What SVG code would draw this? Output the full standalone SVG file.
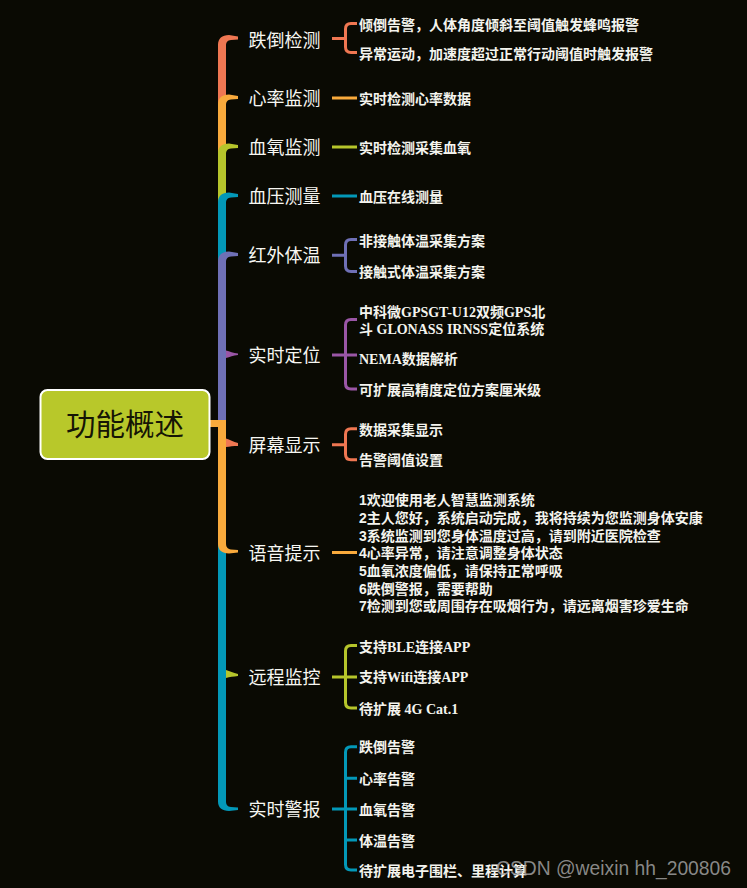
<svg xmlns="http://www.w3.org/2000/svg" width="747" height="888" viewBox="0 0 747 888">
<style>
.lbl{font-family:"Noto Sans CJK SC","Noto Sans",sans-serif;font-size:18px;fill:#f7f7f2}
.leaf{font-family:"Liberation Serif","Noto Sans CJK SC",serif;font-size:14px;font-weight:bold;fill:#f4f4ee}
.leafs{font-family:"Liberation Sans","Noto Sans CJK SC",sans-serif;font-size:14px;font-weight:bold;fill:#f4f4ee}
.c{fill:none;stroke-width:3;stroke-linecap:butt}
.coral{fill:#ef7752}.orange{fill:#f9aa3c}.green{fill:#b6c52b}.teal{fill:#0398b8}.bp{fill:#6f70b6}.purple{fill:#9a56a6}
.scoral{stroke:#ef7752}.sorange{stroke:#f9aa3c}.sgreen{stroke:#b6c52b}.steal{stroke:#0398b8}.sbp{stroke:#6f70b6}.spurple{stroke:#9a56a6}
</style>
<rect width="747" height="888" fill="#0a0a03"/>
<g id="connectors">
  <!-- spine, upper branches -->
  <path class="coral" d="M218,424 L218,45 C218,38.5 222,35 229,35 L238,36.5 L238,39.5 L231,40 C227.5,40.5 226,42 226,46 L226,424 Z"/>
  <path class="orange" d="M218,424 L218,104.5 C218,98 222,94.5 229,94.5 L238,96 L238,99 L231,99.5 C227.5,100 226,101.5 226,105.5 L226,424 Z"/>
  <path class="green" d="M218,424 L218,153.5 C218,147 222,143.5 229,143.5 L238,145 L238,148 L231,148.5 C227.5,149 226,150.5 226,154.5 L226,424 Z"/>
  <path class="teal" d="M218,424 L218,202.5 C218,196 222,192.5 229,192.5 L238,194 L238,197 L231,197.5 C227.5,198 226,199.5 226,203.5 L226,424 Z"/>
  <path class="bp" d="M218,424 L218,261.5 C218,255 222,251.5 229,251.5 L238,253 L238,256 L231,256.5 C227.5,257 226,258.5 226,262.5 L226,424 Z"/>
  <path class="purple" d="M226,350.5 C230,351.5 233,353 238,353.5 L238,355 C233,355.5 230,357 226,358 Z"/>
  <!-- spine, lower branches -->
  <path class="teal" d="M218,424 L218,801.5 C218,807.5 222,811 229,811 L238,810 L238,807.5 L231,807 C227.5,806.5 226,805 226,801 L226,424 Z"/>
  <path class="green" d="M226,670 C230,671 233,673 238,674 L238,676 C233,676.5 230,677 226,678 Z"/>
  <path class="orange" d="M210,420 L226,420 L226,543 C226,547 227.5,549 231,549.5 L238,550 L238,552.5 L229,553.5 C222,553.5 218,550 218,544 L218,427 L210,427 Z"/>
  <path class="coral" d="M226,438.5 C230,439.5 233,442 238,443 L238,446 C233,446 230,446.5 226,447 Z"/>
  <!-- branch to leaf connectors -->
  <path class="c scoral" d="M332,38.5 L345.5,38.5 M357,23.5 L351,23.5 Q345.5,23.5 345.5,29 L345.5,47 Q345.5,52.5 351,52.5 L357,52.5"/>
  <path class="c sorange" d="M332,98 L357,98"/>
  <path class="c sgreen" d="M332,147 L357,147"/>
  <path class="c steal" d="M332,196 L357,196"/>
  <path class="c sbp" d="M332,255.3 L345.5,255.3 M357,239.5 L351,239.5 Q345.5,239.5 345.5,245 L345.5,266 Q345.5,271.5 351,271.5 L357,271.5"/>
  <path class="c spurple" d="M332,355 L357,355 M357,319.5 L351,319.5 Q345.5,319.5 345.5,325 L345.5,383.5 Q345.5,389 351,389 L357,389"/>
  <path class="c scoral" d="M332,444.7 L345.5,444.7 M357,428.7 L351,428.7 Q345.5,428.7 345.5,434.2 L345.5,454.2 Q345.5,459.7 351,459.7 L357,459.7"/>
  <path class="c sorange" d="M332,552.5 L357,552.5"/>
  <path class="c sgreen" d="M332,677 L357,677 M357,645.5 L351,645.5 Q345.5,645.5 345.5,651 L345.5,702.5 Q345.5,708 351,708 L357,708"/>
  <path class="c steal" d="M332,809 L357,809 M357,746.7 L351,746.7 Q345.5,746.7 345.5,752.2 L345.5,864.5 Q345.5,870 351,870 L357,870 M345.5,778.3 L357,778.3 M345.5,840 L357,840"/>
</g>
<g id="root">
  <rect x="40.5" y="390" width="169" height="69" rx="7" fill="#b8c82a" stroke="#ffffff" stroke-width="2"/>
  <text x="125" y="435" text-anchor="middle" font-family="Noto Sans CJK SC, sans-serif" font-size="29.5" fill="#151505">功能概述</text>
</g>
<g id="fall">
  <text class="lbl" x="248.5" y="46.5">跌倒检测</text>
  <text class="leaf" x="359" y="29.5">倾倒告警，人体角度倾斜至阈值触发蜂鸣报警</text>
  <text class="leaf" x="359" y="58.5">异常运动，加速度超过正常行动阈值时触发报警</text>
</g>
<g id="heart">
  <text class="lbl" x="248.5" y="105">心率监测</text>
  <text class="leaf" x="359" y="103.5">实时检测心率数据</text>
</g>
<g id="oxygen">
  <text class="lbl" x="248.5" y="154">血氧监测</text>
  <text class="leaf" x="359" y="152.5">实时检测采集血氧</text>
</g>
<g id="pressure">
  <text class="lbl" x="248.5" y="203">血压测量</text>
  <text class="leaf" x="359" y="201.5">血压在线测量</text>
</g>
<g id="temp">
  <text class="lbl" x="248.5" y="262">红外体温</text>
  <text class="leaf" x="359" y="245.5">非接触体温采集方案</text>
  <text class="leaf" x="359" y="276.5">接触式体温采集方案</text>
</g>
<g id="location">
  <text class="lbl" x="248.5" y="362">实时定位</text>
  <text class="leaf" x="359" y="316.5">中科微GPSGT-U12双频GPS北</text>
  <text class="leaf" x="359" y="333.5">斗 GLONASS IRNSS定位系统</text>
  <text class="leaf" x="359" y="364">NEMA数据解析</text>
  <text class="leaf" x="359" y="394.5">可扩展高精度定位方案厘米级</text>
</g>
<g id="screen">
  <text class="lbl" x="248.5" y="452">屏幕显示</text>
  <text class="leaf" x="359" y="434.5">数据采集显示</text>
  <text class="leaf" x="359" y="464.5">告警阈值设置</text>
</g>
<g id="voice">
  <text class="lbl" x="248.5" y="560">语音提示</text>
  <text class="leafs" x="359" y="505">1欢迎使用老人智慧监测系统</text>
  <text class="leafs" x="359" y="522.7">2主人您好，系统启动完成，我将持续为您监测身体安康</text>
  <text class="leafs" x="359" y="540.5">3系统监测到您身体温度过高，请到附近医院检查</text>
  <text class="leafs" x="359" y="558.2">4心率异常，请注意调整身体状态</text>
  <text class="leafs" x="359" y="575.9">5血氧浓度偏低，请保持正常呼吸</text>
  <text class="leafs" x="359" y="593.5">6跌倒警报，需要帮助</text>
  <text class="leafs" x="359" y="611.3">7检测到您或周围存在吸烟行为，请远离烟害珍爱生命</text>
</g>
<g id="remote">
  <text class="lbl" x="248.5" y="684">远程监控</text>
  <text class="leaf" x="359" y="651.5">支持BLE连接APP</text>
  <text class="leaf" x="359" y="682">支持Wifi连接APP</text>
  <text class="leaf" x="359" y="713.5">待扩展 4G Cat.1</text>
</g>
<g id="alarm">
  <text class="lbl" x="248.5" y="816">实时警报</text>
  <text class="leaf" x="359" y="752">跌倒告警</text>
  <text class="leaf" x="359" y="783.8">心率告警</text>
  <text class="leaf" x="359" y="814.5">血氧告警</text>
  <text class="leaf" x="359" y="845.5">体温告警</text>
  <text class="leaf" x="359" y="875.5">待扩展电子围栏、里程计算</text>
</g>
<text x="496" y="875" font-family="Liberation Sans, Arial, sans-serif" font-size="19.3" fill="#a0a0a0" fill-opacity="0.85">CSDN @weixin hh_200806</text>
</svg>
